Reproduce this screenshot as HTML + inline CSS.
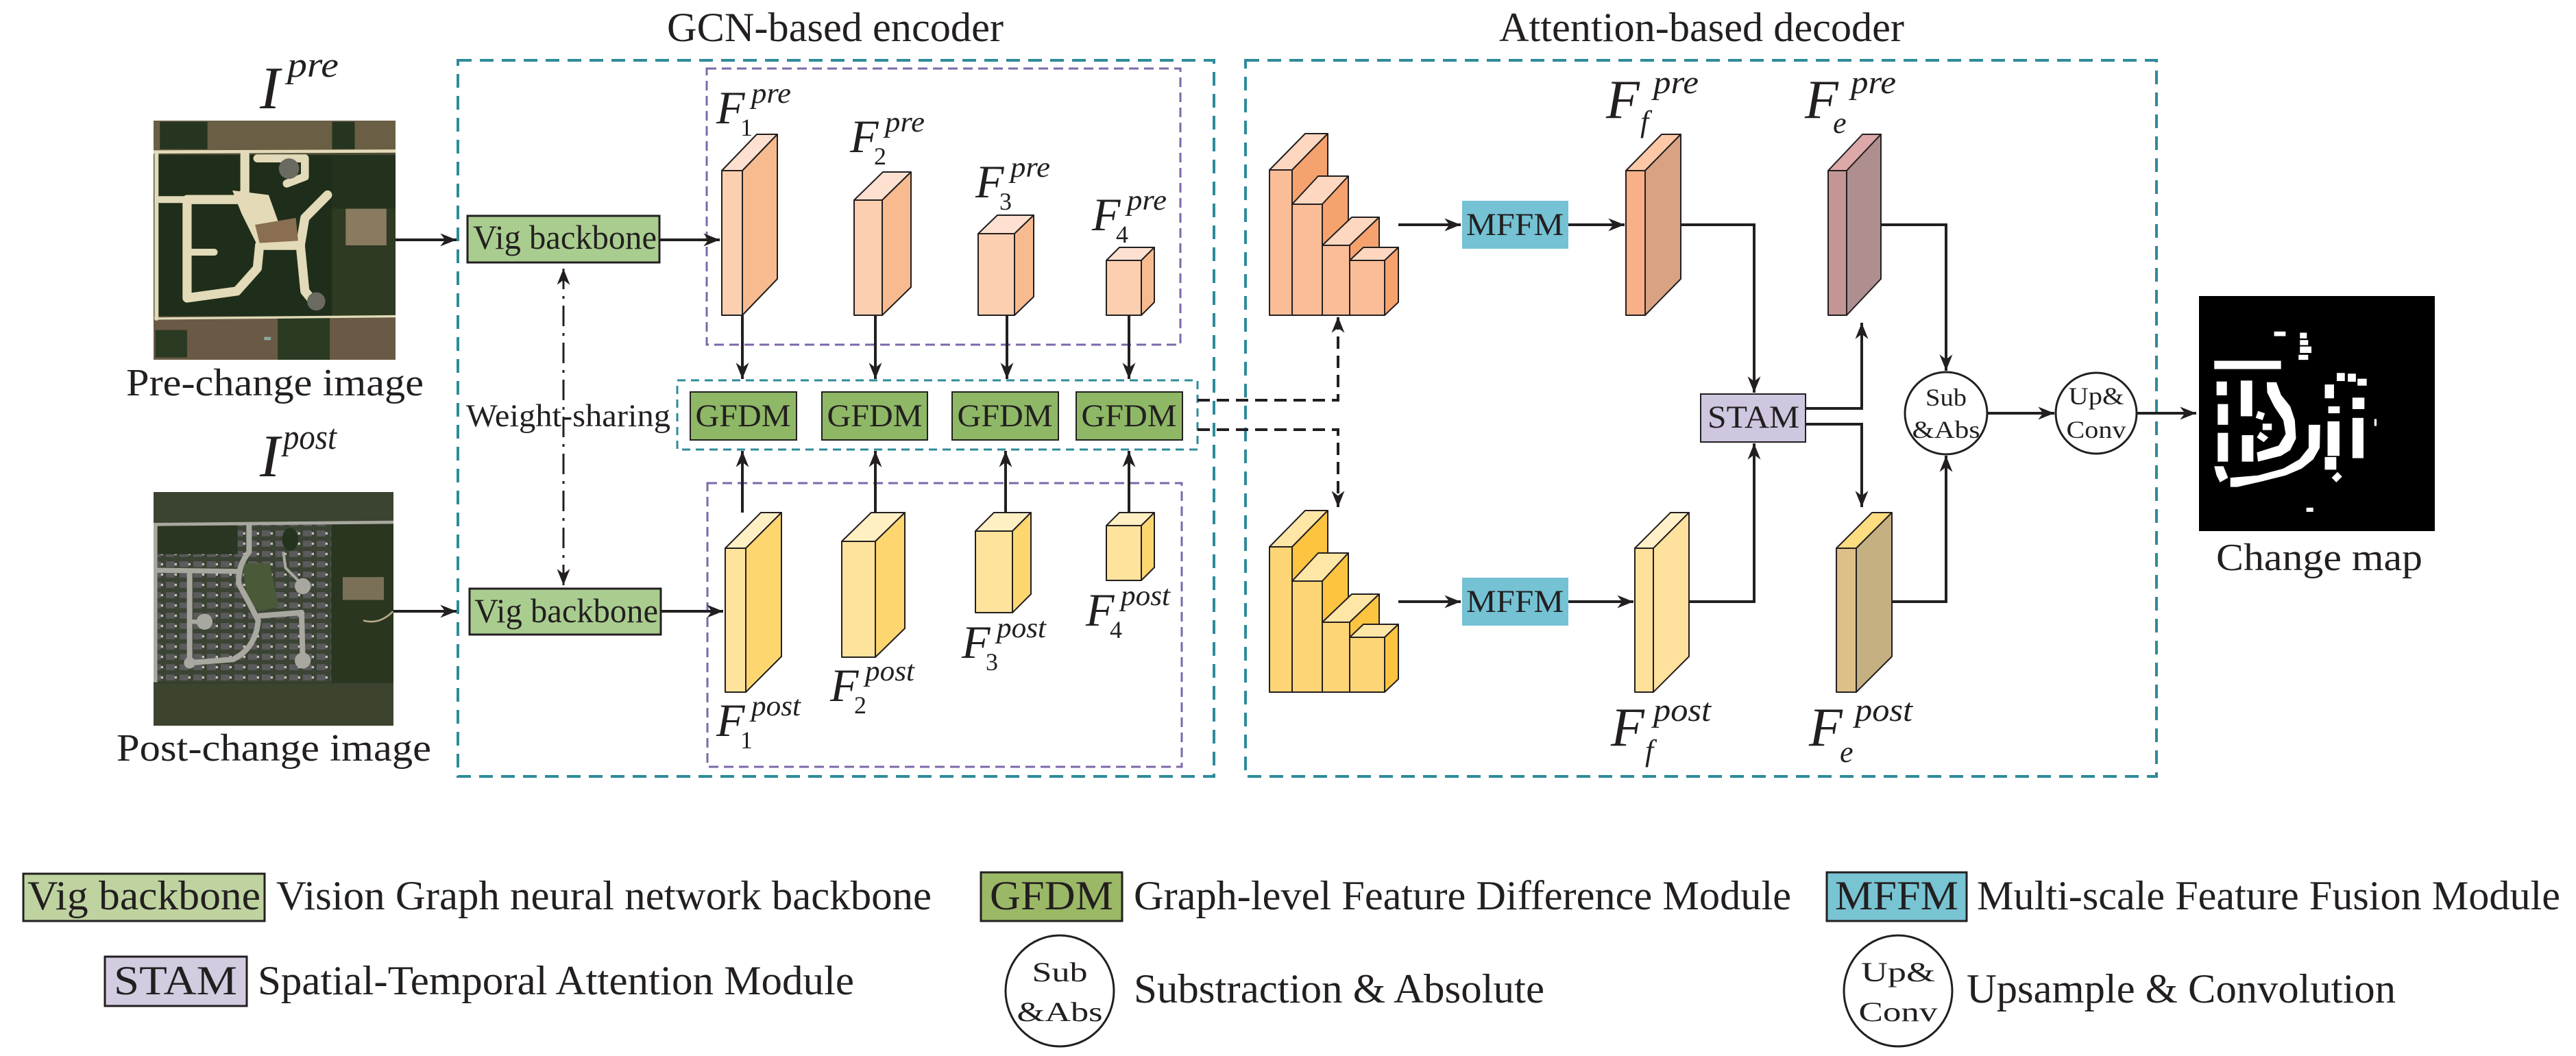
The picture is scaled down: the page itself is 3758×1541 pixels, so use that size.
<!DOCTYPE html>
<html><head><meta charset="utf-8"><style>
html,body{margin:0;padding:0;background:#fff;}
svg{display:block;}
text{fill:#231f20;}
.it{font-style:italic;}
</style></head><body>
<svg width="3758" height="1541" viewBox="0 0 3758 1541" xmlns="http://www.w3.org/2000/svg" font-family="Liberation Serif, 'Times New Roman', Times, serif">
<defs>
<marker id="ah" viewBox="0 0 10 8" refX="10" refY="4" markerWidth="24" markerHeight="19" orient="auto-start-reverse" markerUnits="userSpaceOnUse">
<path d="M0,0 L10,4 L0,8 L3,4 z" fill="#231f20"/></marker>
<pattern id="houses" width="60" height="45" patternUnits="userSpaceOnUse">
<rect width="60" height="45" fill="#3b4434"/><rect x="6" y="6" width="38" height="26" fill="#5b5a5c"/><rect x="44" y="14" width="10" height="10" fill="#c8c6bc"/></pattern>
</defs>

<!-- titles -->
<text x="973" y="60" font-size="60" textLength="491" lengthAdjust="spacingAndGlyphs">GCN-based encoder</text>
<text x="2187" y="60" font-size="60" textLength="591" lengthAdjust="spacingAndGlyphs">Attention-based decoder</text>

<!-- dashed outer boxes -->
<rect x="668" y="88" width="1103" height="1045" fill="none" stroke="#2e8b9a" stroke-width="4" stroke-dasharray="20,12"/>
<rect x="1817" y="88" width="1329" height="1045" fill="none" stroke="#2e8b9a" stroke-width="4" stroke-dasharray="20,12"/>
<rect x="1031" y="100" width="691" height="403" fill="none" stroke="#7b68a8" stroke-width="3" stroke-dasharray="14,8"/>
<rect x="1032" y="705" width="692" height="414" fill="none" stroke="#7b68a8" stroke-width="3" stroke-dasharray="14,8"/>
<rect x="988" y="555" width="759" height="101" fill="none" stroke="#2e8b9a" stroke-width="3" stroke-dasharray="12,8"/>

<!-- I labels -->
<text class="it" x="379" y="158" font-size="88">I</text>
<text class="it" x="419" y="112" font-size="52" textLength="75" lengthAdjust="spacingAndGlyphs">pre</text>
<text x="184" y="577" font-size="56" textLength="434" lengthAdjust="spacingAndGlyphs">Pre-change image</text>
<text class="it" x="379" y="695" font-size="88">I</text>
<text class="it" x="413" y="655" font-size="52" textLength="78" lengthAdjust="spacingAndGlyphs">post</text>
<text x="170" y="1110" font-size="56" textLength="459" lengthAdjust="spacingAndGlyphs">Post-change image</text>

<!-- pre image -->
<svg x="224" y="176" width="353" height="349" viewBox="12 15 1068 1045" preserveAspectRatio="none">
<rect x="12" y="15" width="1068" height="1045" fill="#4d4a34"/>
<rect x="12" y="15" width="1068" height="140" fill="#6a5f45"/>
<rect x="40" y="20" width="210" height="120" fill="#26351f"/>
<rect x="800" y="20" width="100" height="120" fill="#26351f"/>
<rect x="30" y="165" width="770" height="705" fill="#1f2e1a"/>
<rect x="800" y="165" width="280" height="235" fill="#22321c"/>
<rect x="800" y="400" width="280" height="470" fill="#2e3a22"/>
<rect x="860" y="400" width="180" height="160" fill="#8a7a60"/>
<rect x="12" y="870" width="1068" height="190" fill="#6a5a45"/>
<rect x="560" y="870" width="230" height="190" fill="#2a3a22"/>
<rect x="20" y="930" width="140" height="120" fill="#2a3a22"/>
<g fill="none" stroke="#e2dab8" stroke-linecap="round" stroke-linejoin="round">
<path d="M12,152 L1080,148" stroke-width="14"/>
<path d="M25,160 L25,880" stroke-width="18"/>
<path d="M20,880 L1080,870" stroke-width="10"/>
<path d="M415,165 L415,330 L380,360 L160,360 L160,790 L380,760 L470,660 L480,560 L660,560 L680,440 L780,340" stroke-width="40"/>
<path d="M660,560 L680,760 L730,820" stroke-width="40"/>
<path d="M160,590 L280,590" stroke-width="30"/>
<path d="M40,360 L160,360" stroke-width="30"/>
<path d="M470,180 L680,180 L680,260 L600,290" stroke-width="35"/>
</g>
<polygon points="360,320 520,340 600,560 470,560 400,420" fill="#e4dab8"/>
<polygon points="460,470 640,440 650,540 480,550" fill="#8a6e52"/>
<circle cx="610" cy="225" r="45" fill="#6a6a60"/>
<circle cx="730" cy="805" r="40" fill="#6a6a60"/>
<rect x="500" y="960" width="30" height="14" fill="#8aa8a0"/>
</svg>

<!-- post image -->
<svg x="224" y="718" width="350" height="341" viewBox="12 18 1050 1022" preserveAspectRatio="none">
<rect x="12" y="18" width="1050" height="1022" fill="#2f3a26"/>
<rect x="12" y="18" width="1050" height="135" fill="#3a4430"/>
<rect x="30" y="160" width="760" height="690" fill="url(#houses)"/>
<rect x="30" y="160" width="350" height="130" fill="#2a3622"/>
<polygon points="400,330 520,330 560,520 470,540 420,470" fill="#4a5a38"/>
<rect x="790" y="160" width="272" height="690" fill="#2a3620"/>
<rect x="840" y="390" width="180" height="100" fill="#7a7058"/>
<rect x="12" y="855" width="1050" height="185" fill="#3c4430"/>
<ellipse cx="610" cy="225" rx="35" ry="50" fill="#24331e"/>
<g fill="none" stroke="#a8a8a0" stroke-linejoin="round">
<path d="M12,160 L1062,150" stroke-width="14"/>
<path d="M20,160 L20,850" stroke-width="18"/>
<path d="M20,360 L385,365" stroke-width="22"/>
<path d="M430,160 L430,280 Q380,340 385,420 Q440,520 470,580 Q460,700 360,750 L170,765 L170,370" stroke-width="24"/>
<path d="M470,560 L660,545 L665,760" stroke-width="24"/>
<path d="M580,280 L590,350 L660,420" stroke-width="12"/>
<path d="M170,585 L235,585" stroke-width="20"/>
</g>
<g fill="#a8a8a0"><circle cx="235" cy="585" r="35"/><circle cx="665" cy="430" r="35"/><circle cx="665" cy="755" r="35"/><circle cx="170" cy="765" r="25"/></g>
<path d="M930,580 Q1000,600 1060,540" stroke="#b8a888" stroke-width="8" fill="none"/>
</svg>

<!-- Vig backbones -->
<rect x="682" y="315" width="280" height="68" fill="#a9cd8f" stroke="#231f20" stroke-width="3"/>
<text x="690" y="363" font-size="50" textLength="268" lengthAdjust="spacingAndGlyphs">Vig backbone</text>
<rect x="685" y="859" width="279" height="67" fill="#a9cd8f" stroke="#231f20" stroke-width="3"/>
<text x="692" y="908" font-size="50" textLength="268" lengthAdjust="spacingAndGlyphs">Vig backbone</text>
<text x="680" y="622" font-size="47" textLength="298" lengthAdjust="spacingAndGlyphs">Weight-sharing</text>

<!-- GFDM -->
<g fill="#8fb866" stroke="#231f20" stroke-width="2">
<rect x="1007" y="572" width="155" height="70"/><rect x="1199" y="572" width="154" height="70"/>
<rect x="1389" y="572" width="155" height="70"/><rect x="1570" y="572" width="155" height="70"/>
</g>
<g font-size="47" text-anchor="middle">
<text x="1084" y="622" textLength="139" lengthAdjust="spacingAndGlyphs">GFDM</text>
<text x="1276" y="622" textLength="139" lengthAdjust="spacingAndGlyphs">GFDM</text>
<text x="1466" y="622" textLength="139" lengthAdjust="spacingAndGlyphs">GFDM</text>
<text x="1647" y="622" textLength="139" lengthAdjust="spacingAndGlyphs">GFDM</text>
</g>

<g stroke="#231f20" stroke-width="2" stroke-linejoin="round">
<rect x="1053" y="249" width="30" height="211" fill="#fccfb0"/>
<polygon points="1053,249 1104,196 1134,196 1083,249" fill="#fde0d0"/>
<polygon points="1083,249 1134,196 1134,407 1083,460" fill="#f8bb90"/>
<rect x="1246" y="292" width="41" height="168" fill="#fccfb0"/>
<polygon points="1246,292 1288,251 1329,251 1287,292" fill="#fde0d0"/>
<polygon points="1287,292 1329,251 1329,419 1287,460" fill="#f8bb90"/>
<rect x="1427" y="341" width="53" height="119" fill="#fccfb0"/>
<polygon points="1427,341 1455,314 1508,314 1480,341" fill="#fde0d0"/>
<polygon points="1480,341 1508,314 1508,433 1480,460" fill="#f8bb90"/>
<rect x="1614" y="380" width="51" height="80" fill="#fccfb0"/>
<polygon points="1614,380 1633,361 1684,361 1665,380" fill="#fde0d0"/>
<polygon points="1665,380 1684,361 1684,441 1665,460" fill="#f8bb90"/>
<rect x="1058" y="800" width="30" height="210" fill="#fee39c"/>
<polygon points="1058,800 1110,748 1140,748 1088,800" fill="#fff0c4"/>
<polygon points="1088,800 1140,748 1140,958 1088,1010" fill="#fdd670"/>
<rect x="1228" y="790" width="49" height="169" fill="#fee39c"/>
<polygon points="1228,790 1271,748 1320,748 1277,790" fill="#fff0c4"/>
<polygon points="1277,790 1320,748 1320,917 1277,959" fill="#fdd670"/>
<rect x="1423" y="775" width="54" height="119" fill="#fee39c"/>
<polygon points="1423,775 1450,748 1504,748 1477,775" fill="#fff0c4"/>
<polygon points="1477,775 1504,748 1504,867 1477,894" fill="#fdd670"/>
<rect x="1614" y="767" width="51" height="80" fill="#fee39c"/>
<polygon points="1614,767 1633,748 1684,748 1665,767" fill="#fff0c4"/>
<polygon points="1665,767 1684,748 1684,828 1665,847" fill="#fdd670"/>

<rect x="1852" y="248" width="33" height="212" fill="#fabd98"/>
<polygon points="1852,248 1904,195 1937,195 1885,248" fill="#fdd7c0"/>
<polygon points="1885,248 1937,195 1937,407 1885,460" fill="#f5a26e"/>
<rect x="1885" y="298" width="44" height="162" fill="#fabd98"/>
<polygon points="1885,298 1923,257 1967,257 1929,298" fill="#fdd7c0"/>
<polygon points="1929,298 1967,257 1967,419 1929,460" fill="#f5a26e"/>
<rect x="1929" y="358" width="40" height="102" fill="#fabd98"/>
<polygon points="1929,358 1972,317 2012,317 1969,358" fill="#fdd7c0"/>
<polygon points="1969,358 2012,317 2012,419 1969,460" fill="#f5a26e"/>
<rect x="1969" y="380" width="51" height="80" fill="#fabd98"/>
<polygon points="1969,380 1989,361 2040,361 2020,380" fill="#fdd7c0"/>
<polygon points="2020,380 2040,361 2040,441 2020,460" fill="#f5a26e"/>
<g transform="translate(0,550)">
<rect x="1852" y="248" width="33" height="212" fill="#fdd576"/>
<polygon points="1852,248 1904,195 1937,195 1885,248" fill="#fee6a6"/>
<polygon points="1885,248 1937,195 1937,407 1885,460" fill="#fcc440"/>
<rect x="1885" y="298" width="44" height="162" fill="#fdd576"/>
<polygon points="1885,298 1923,257 1967,257 1929,298" fill="#fee6a6"/>
<polygon points="1929,298 1967,257 1967,419 1929,460" fill="#fcc440"/>
<rect x="1929" y="358" width="40" height="102" fill="#fdd576"/>
<polygon points="1929,358 1972,317 2012,317 1969,358" fill="#fee6a6"/>
<polygon points="1969,358 2012,317 2012,419 1969,460" fill="#fcc440"/>
<rect x="1969" y="380" width="51" height="80" fill="#fdd576"/>
<polygon points="1969,380 1989,361 2040,361 2020,380" fill="#fee6a6"/>
<polygon points="2020,380 2040,361 2040,441 2020,460" fill="#fcc440"/>
</g>

<rect x="2372" y="249" width="28" height="211" fill="#f8b088"/>
<polygon points="2372,249 2424,196 2452,196 2400,249" fill="#fcc8a6"/>
<polygon points="2400,249 2452,196 2452,407 2400,460" fill="#d9a383"/>
<rect x="2667" y="249" width="27" height="211" fill="#c49595"/>
<polygon points="2667,249 2717,196 2744,196 2694,249" fill="#dca8a8"/>
<polygon points="2694,249 2744,196 2744,407 2694,460" fill="#ae8e8e"/>
<rect x="2385" y="800" width="27" height="210" fill="#fee09a"/>
<polygon points="2385,800 2437,748 2464,748 2412,800" fill="#fff0c8"/>
<polygon points="2412,800 2464,748 2464,958 2412,1010" fill="#fde19c"/>
<rect x="2679" y="800" width="29" height="210" fill="#dcc088"/>
<polygon points="2679,800 2731,748 2760,748 2708,800" fill="#fedc80"/>
<polygon points="2708,800 2760,748 2760,958 2708,1010" fill="#c4b080"/>
</g>

<rect x="2133" y="293" width="155" height="70" fill="#74c2d4"/>
<rect x="2133" y="843" width="155" height="70" fill="#74c2d4"/>
<text x="2210" y="343" font-size="47" text-anchor="middle" textLength="142" lengthAdjust="spacingAndGlyphs">MFFM</text>
<text x="2210" y="893" font-size="47" text-anchor="middle" textLength="142" lengthAdjust="spacingAndGlyphs">MFFM</text>
<rect x="2481" y="575" width="153" height="70" fill="#cfc6e0" stroke="#231f20" stroke-width="2"/>
<text x="2558" y="624" font-size="47" text-anchor="middle" textLength="134" lengthAdjust="spacingAndGlyphs">STAM</text>

<circle cx="2839" cy="603" r="60" fill="#fff" stroke="#231f20" stroke-width="3"/>
<text x="2839" y="592" font-size="36" text-anchor="middle" textLength="60" lengthAdjust="spacingAndGlyphs">Sub</text>
<text x="2839" y="639" font-size="36" text-anchor="middle" textLength="99" lengthAdjust="spacingAndGlyphs">&amp;Abs</text>
<circle cx="3058" cy="603" r="59" fill="#fff" stroke="#231f20" stroke-width="3"/>
<text x="3058" y="590" font-size="36" text-anchor="middle" textLength="81" lengthAdjust="spacingAndGlyphs">Up&amp;</text>
<text x="3058" y="639" font-size="36" text-anchor="middle" textLength="87" lengthAdjust="spacingAndGlyphs">Conv</text>

<rect x="3208" y="432" width="344" height="343" fill="#000"/>
<g transform="translate(3200,425) scale(0.336)" fill="#fff">
<rect x="350" y="175" width="50" height="20"/>
<rect x="462" y="180" width="30" height="25"/><rect x="462" y="212" width="36" height="22"/><rect x="462" y="240" width="50" height="28"/><rect x="456" y="276" width="42" height="22"/>
<rect x="90" y="302" width="290" height="36"/>
<rect x="100" y="392" width="45" height="60"/><rect x="105" y="490" width="45" height="90"/><rect x="105" y="615" width="45" height="125"/>
<rect x="205" y="388" width="50" height="155"/><rect x="210" y="625" width="50" height="115"/>
<polygon points="318,395 360,395 380,450 420,500 440,560 445,640 420,690 380,715 280,740 275,700 370,670 400,620 390,560 350,500 320,440"/>
<polygon points="280,520 310,530 300,560 270,550"/><rect x="300" y="575" width="40" height="28"/><polygon points="290,610 325,635 305,655 275,635"/>
<polygon points="500,580 550,580 548,680 520,730 470,770 400,800 300,825 190,850 160,850 160,810 280,800 390,770 460,730 500,680"/>
<polygon points="90,760 130,760 150,810 115,830 100,800"/>
<rect x="570" y="405" width="40" height="60"/><rect x="585" y="500" width="50" height="30"/><rect x="582" y="565" width="52" height="150"/><rect x="570" y="720" width="50" height="55"/>
<polygon points="600,810 625,785 645,805 620,830"/>
<rect x="690" y="462" width="52" height="50"/><rect x="690" y="550" width="48" height="175"/>
<rect x="622" y="355" width="35" height="35"/><rect x="670" y="358" width="35" height="35"/><rect x="712" y="380" width="40" height="30"/>
<rect x="785" y="555" width="10" height="30"/>
<rect x="490" y="940" width="30" height="18"/>
</g>
<text x="3233" y="832" font-size="56" textLength="301" lengthAdjust="spacingAndGlyphs">Change map</text>

<g font-size="68">
<text class="it" x="1045" y="180">F</text><text class="it" x="1096" y="150" font-size="42" textLength="58" lengthAdjust="spacingAndGlyphs">pre</text><text x="1080" y="198" font-size="36">1</text>
<text class="it" x="1240" y="222">F</text><text class="it" x="1291" y="192" font-size="42" textLength="58" lengthAdjust="spacingAndGlyphs">pre</text><text x="1275" y="240" font-size="36">2</text>
<text class="it" x="1423" y="288">F</text><text class="it" x="1474" y="258" font-size="42" textLength="58" lengthAdjust="spacingAndGlyphs">pre</text><text x="1458" y="306" font-size="36">3</text>
<text class="it" x="1593" y="336">F</text><text class="it" x="1644" y="306" font-size="42" textLength="58" lengthAdjust="spacingAndGlyphs">pre</text><text x="1628" y="354" font-size="36">4</text>
<text class="it" x="1045" y="1074">F</text><text class="it" x="1096" y="1044" font-size="42" textLength="72" lengthAdjust="spacingAndGlyphs">post</text><text x="1080" y="1092" font-size="36">1</text>
<text class="it" x="1211" y="1023">F</text><text class="it" x="1262" y="993" font-size="42" textLength="72" lengthAdjust="spacingAndGlyphs">post</text><text x="1246" y="1041" font-size="36">2</text>
<text class="it" x="1403" y="960">F</text><text class="it" x="1454" y="930" font-size="42" textLength="72" lengthAdjust="spacingAndGlyphs">post</text><text x="1438" y="978" font-size="36">3</text>
<text class="it" x="1584" y="913">F</text><text class="it" x="1635" y="883" font-size="42" textLength="72" lengthAdjust="spacingAndGlyphs">post</text><text x="1619" y="931" font-size="36">4</text>
</g>
<g font-size="80">
<text class="it" x="2343" y="172">F</text><text class="it" x="2412" y="136" font-size="48" textLength="66" lengthAdjust="spacingAndGlyphs">pre</text><text class="it" x="2393" y="192" font-size="44">f</text>
<text class="it" x="2633" y="172">F</text><text class="it" x="2700" y="136" font-size="48" textLength="66" lengthAdjust="spacingAndGlyphs">pre</text><text class="it" x="2674" y="194" font-size="44">e</text>
<text class="it" x="2350" y="1088">F</text><text class="it" x="2412" y="1052" font-size="48" textLength="84" lengthAdjust="spacingAndGlyphs">post</text><text class="it" x="2400" y="1110" font-size="44">f</text>
<text class="it" x="2639" y="1088">F</text><text class="it" x="2706" y="1052" font-size="48" textLength="84" lengthAdjust="spacingAndGlyphs">post</text><text class="it" x="2684" y="1112" font-size="44">e</text>
</g>

<g stroke="#231f20" stroke-width="4" fill="none">
<line x1="577" y1="350" x2="666" y2="350" marker-end="url(#ah)"/>
<line x1="574" y1="892" x2="666" y2="892" marker-end="url(#ah)"/>
<line x1="962" y1="350" x2="1050" y2="350" marker-end="url(#ah)"/>
<line x1="964" y1="892" x2="1055" y2="892" marker-end="url(#ah)"/>
<line x1="822" y1="392" x2="822" y2="854" stroke-width="3" stroke-dasharray="30,10,4,10" marker-start="url(#ah)" marker-end="url(#ah)"/>
<line x1="1083" y1="460" x2="1083" y2="553" marker-end="url(#ah)"/>
<line x1="1277" y1="460" x2="1277" y2="553" marker-end="url(#ah)"/>
<line x1="1469" y1="460" x2="1469" y2="553" marker-end="url(#ah)"/>
<line x1="1647" y1="460" x2="1647" y2="553" marker-end="url(#ah)"/>
<line x1="1083" y1="748" x2="1083" y2="658" marker-end="url(#ah)"/>
<line x1="1277" y1="748" x2="1277" y2="658" marker-end="url(#ah)"/>
<line x1="1467" y1="748" x2="1467" y2="658" marker-end="url(#ah)"/>
<line x1="1647" y1="748" x2="1647" y2="658" marker-end="url(#ah)"/>
<polyline points="1747,584 1952,584 1952,462" stroke-dasharray="18,10" marker-end="url(#ah)"/>
<polyline points="1747,627 1952,627 1952,740" stroke-dasharray="18,10" marker-end="url(#ah)"/>
<line x1="2040" y1="328" x2="2131" y2="328" marker-end="url(#ah)"/>
<line x1="2040" y1="878" x2="2131" y2="878" marker-end="url(#ah)"/>
<line x1="2288" y1="328" x2="2370" y2="328" marker-end="url(#ah)"/>
<line x1="2288" y1="878" x2="2383" y2="878" marker-end="url(#ah)"/>
<polyline points="2452,328 2559,328 2559,573" marker-end="url(#ah)"/>
<polyline points="2464,878 2559,878 2559,647" marker-end="url(#ah)"/>
<polyline points="2634,596 2716,596 2716,471" marker-end="url(#ah)"/>
<polyline points="2634,619 2716,619 2716,740" marker-end="url(#ah)"/>
<polyline points="2744,328 2839,328 2839,541" marker-end="url(#ah)"/>
<polyline points="2760,878 2839,878 2839,665" marker-end="url(#ah)"/>
<line x1="2899" y1="603" x2="2997" y2="603" marker-end="url(#ah)"/>
<line x1="3117" y1="603" x2="3204" y2="603" marker-end="url(#ah)"/>
</g>

<rect x="34" y="1275" width="352" height="69" fill="#bed3a0" stroke="#231f20" stroke-width="3"/>
<text x="40" y="1327" font-size="60" textLength="340" lengthAdjust="spacingAndGlyphs">Vig backbone</text>
<text x="403" y="1327" font-size="60" textLength="956" lengthAdjust="spacingAndGlyphs">Vision Graph neural network backbone</text>
<rect x="1431" y="1273" width="206" height="71" fill="#9bb866" stroke="#231f20" stroke-width="3"/>
<text x="1534" y="1327" font-size="60" text-anchor="middle" textLength="180" lengthAdjust="spacingAndGlyphs">GFDM</text>
<text x="1654" y="1327" font-size="60" textLength="959" lengthAdjust="spacingAndGlyphs">Graph-level Feature Difference Module</text>
<rect x="2665" y="1273" width="204" height="71" fill="#78c4d2" stroke="#231f20" stroke-width="3"/>
<text x="2767" y="1327" font-size="60" text-anchor="middle" textLength="180" lengthAdjust="spacingAndGlyphs">MFFM</text>
<text x="2884" y="1327" font-size="60" textLength="851" lengthAdjust="spacingAndGlyphs">Multi-scale Feature Fusion Module</text>
<rect x="153" y="1396" width="207" height="72" fill="#d3cce0" stroke="#231f20" stroke-width="3"/>
<text x="256" y="1451" font-size="60" text-anchor="middle" textLength="180" lengthAdjust="spacingAndGlyphs">STAM</text>
<text x="376" y="1451" font-size="60" textLength="870" lengthAdjust="spacingAndGlyphs">Spatial-Temporal Attention Module</text>
<ellipse cx="1546" cy="1446" rx="79" ry="81" fill="#fff" stroke="#231f20" stroke-width="3"/>
<text x="1546" y="1432" font-size="40" text-anchor="middle" textLength="81" lengthAdjust="spacingAndGlyphs">Sub</text>
<text x="1546" y="1490" font-size="40" text-anchor="middle" textLength="125" lengthAdjust="spacingAndGlyphs">&amp;Abs</text>
<text x="1654" y="1463" font-size="60" textLength="599" lengthAdjust="spacingAndGlyphs">Substraction &amp; Absolute</text>
<ellipse cx="2769" cy="1446" rx="79" ry="81" fill="#fff" stroke="#231f20" stroke-width="3"/>
<text x="2769" y="1432" font-size="40" text-anchor="middle" textLength="108" lengthAdjust="spacingAndGlyphs">Up&amp;</text>
<text x="2769" y="1490" font-size="40" text-anchor="middle" textLength="115" lengthAdjust="spacingAndGlyphs">Conv</text>
<text x="2869" y="1463" font-size="60" textLength="626" lengthAdjust="spacingAndGlyphs">Upsample &amp; Convolution</text>
</svg>
</body></html>
